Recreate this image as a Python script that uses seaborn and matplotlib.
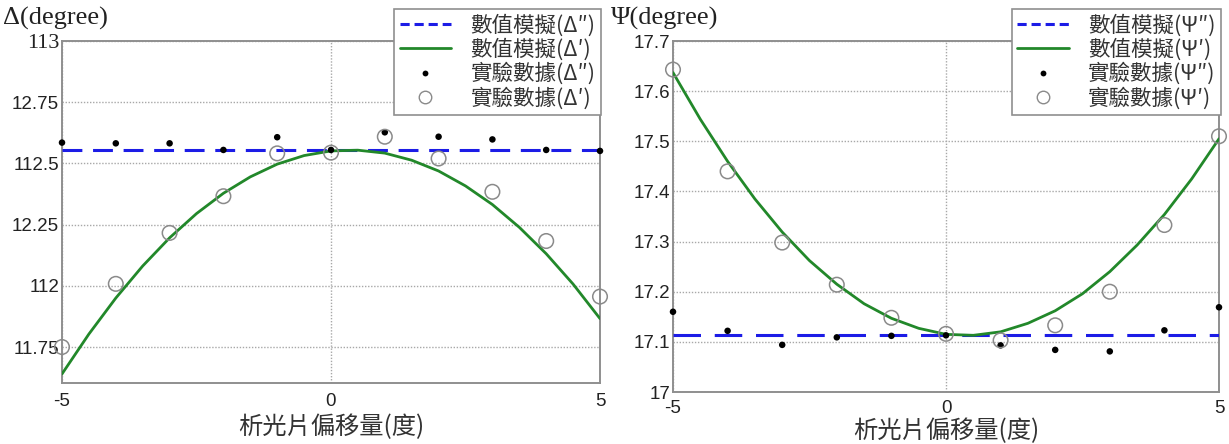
import matplotlib
matplotlib.use("Agg")
import matplotlib.pyplot as plt
import seaborn as sns
from matplotlib.lines import Line2D

# ---------------- data ----------------
x_pts = [-5, -4, -3, -2, -1, 0, 1, 2, 3, 4, 5]
x_line = [-5, 5]
x_curve = [-5, -4.5, -4, -3.5, -3, -2.5, -2, -1.5, -1, -0.5, 0,
           0.5, 1, 1.5, 2, 2.5, 3, 3.5, 4, 4.5, 5]

# Delta panel
delta_dd_sim = [112.555, 112.555]
delta_d_sim = [111.640, 111.803, 111.950, 112.081, 112.196, 112.295, 112.378,
               112.445, 112.497, 112.532, 112.551, 112.554, 112.542, 112.513,
               112.469, 112.408, 112.332, 112.239, 112.131, 112.007, 111.866]
delta_dd_exp = [112.585, 112.582, 112.582, 112.555, 112.607, 112.555,
                112.627, 112.609, 112.598, 112.555, 112.551]
delta_d_exp = [111.75, 112.008, 112.216, 112.366, 112.541, 112.544,
               112.609, 112.52, 112.384, 112.183, 111.956]
delta_yticks = [113, 112.75, 112.5, 112.25, 112, 111.75]
delta_yticklabels = ["113", "12.75", "112.5", "12.25", "112", "11.75"]

# Psi panel
psi_dd_sim = [17.113, 17.113]
psi_d_sim = [17.637, 17.544, 17.460, 17.385, 17.319, 17.262, 17.215, 17.176,
             17.147, 17.127, 17.115, 17.113, 17.120, 17.137, 17.162, 17.196,
             17.240, 17.293, 17.354, 17.425, 17.505]
psi_dd_exp = [17.16, 17.122, 17.094, 17.109, 17.112, 17.113,
              17.093, 17.084, 17.081, 17.123, 17.169]
psi_d_exp = [17.643, 17.44, 17.298, 17.214, 17.148, 17.116,
             17.103, 17.133, 17.2, 17.333, 17.51]
psi_yticks = [17, 17.1, 17.2, 17.3, 17.4, 17.5, 17.6, 17.7]
psi_yticklabels = ["17", "17.1", "17.2", "17.3", "17.4", "17.5", "17.6", "17.7"]

x_ticks = [-5, 0, 5]
x_ticklabels = ["-5", "0", "5"]

xlabel = "析光片偏移量(度)"
leg_delta = ["數值模擬(Δ″)", "數值模擬(Δ′)", "實驗數據(Δ″)", "實驗數據(Δ′)"]
leg_psi = ["數值模擬(Ψ″)", "數值模擬(Ψ′)", "實驗數據(Ψ″)", "實驗數據(Ψ′)"]

# ---------------- style ----------------
sns.set_style("white")
plt.rcParams['font.family'] = ['Liberation Sans', 'Noto Sans CJK TC', 'DejaVu Sans']

BLUE = "#1c1ce6"
GREEN = "#22882a"
GRAY = "#8a8a8a"
SPINE = "#8f8f8f"

W, H = 1229, 444
fig = plt.figure(figsize=(W / 100, H / 100), dpi=100)


def fx(px):
    return px / W


def fy(py):
    return 1 - py / H


ax1 = fig.add_axes([fx(62), fy(383), fx(600) - fx(62), fy(41) - fy(383)])
ax2 = fig.add_axes([fx(673), fy(392), fx(1219) - fx(673), fy(41) - fy(392)])

cjk = ['Noto Sans CJK TC', 'DejaVu Sans']


def panel(ax, dd_sim, d_sim, dd_exp, d_exp, yticks, yticklabels, ylim,
          labels, dash, leg_right_px, ylabel_txt, ylabel_x, xlab_y, xpad):
    sns.lineplot(x=x_line, y=dd_sim, ax=ax, color=BLUE, lw=2.2,
                 linestyle=(0, dash), zorder=3)
    sns.lineplot(x=x_curve, y=d_sim, ax=ax, color=GREEN, lw=2.0, zorder=4)
    sns.scatterplot(x=x_pts, y=dd_exp, ax=ax, color="black", s=22,
                    edgecolor="none", zorder=5, clip_on=False)
    sns.scatterplot(x=x_pts, y=d_exp, ax=ax, facecolor="none", s=110,
                    edgecolor=GRAY, linewidth=1.1, zorder=5, clip_on=False)
    ax.set_xlim(-5, 5)
    ax.set_ylim(*ylim)
    ax.set_xticks(x_ticks)
    ax.set_xticklabels(x_ticklabels)
    ax.set_yticks(yticks)
    ax.set_yticklabels(yticklabels)
    ax.tick_params(length=0, labelsize=13.5, colors="#222222")
    ax.tick_params(axis="y", pad=2)
    ax.tick_params(axis="x", pad=xpad)
    ax.grid(True, linestyle=(0, (1, 1.2)), color="#a8a8a8", lw=1.0)
    for s in ax.spines.values():
        s.set_color(SPINE)
        s.set_linewidth(1.4)
    ax.set_xlabel("")
    # x-axis title centred under the panel
    bb = ax.get_position()
    fig.text((bb.x0 + bb.x1) / 2, fy(xlab_y), xlabel, family=cjk, fontsize=17.5,
             color="#333333", ha="center", va="center")

    handles = [
        Line2D([], [], color=BLUE, lw=2.2, linestyle=(0, (3, 1.6))),
        Line2D([], [], color=GREEN, lw=2.0),
        Line2D([], [], color="black", marker="o", ms=4.2, lw=0, markeredgewidth=0),
        Line2D([], [], color=GRAY, marker="o", ms=9, lw=0, mfc="none", mew=1.0),
    ]
    leg = ax.legend(handles, labels, loc="upper right",
                    bbox_to_anchor=(fx(leg_right_px), fy(9)),
                    bbox_transform=fig.transFigure, borderaxespad=0,
                    prop={"family": cjk, "size": 15.5}, frameon=True,
                    fancybox=False, edgecolor=SPINE, framealpha=1,
                    labelspacing=0.08, handlelength=2.4, handletextpad=0.9,
                    borderpad=0.25)
    leg.get_frame().set_linewidth(1.2)
    for t in leg.get_texts():
        t.set_color("#333333")
    fig.text(fx(ylabel_x), fy(18), ylabel_txt, family=['Liberation Serif', 'DejaVu Serif'],
             fontsize=19, va="center", ha="left", color="#222222")


panel(ax1, delta_dd_sim, delta_d_sim, delta_dd_exp, delta_d_exp,
      delta_yticks, delta_yticklabels, (111.603, 113), leg_delta,
      (6.5, 3.5), 601, "Δ(degree)", 3, 427, 7)
panel(ax2, psi_dd_sim, psi_d_sim, psi_dd_exp, psi_d_exp,
      psi_yticks, psi_yticklabels, (17, 17.7), leg_psi,
      (9, 4.5), 1221, "Ψ(degree)", 611, 431, 6)

# the "113" label is drawn in a serif face in the reference
for lab in ax1.get_yticklabels():
    if lab.get_text() == "113":
        lab.set_family(['Liberation Serif', 'DejaVu Serif'])
        lab.set_fontsize(16)

fig.savefig("out.png", dpi=100)
